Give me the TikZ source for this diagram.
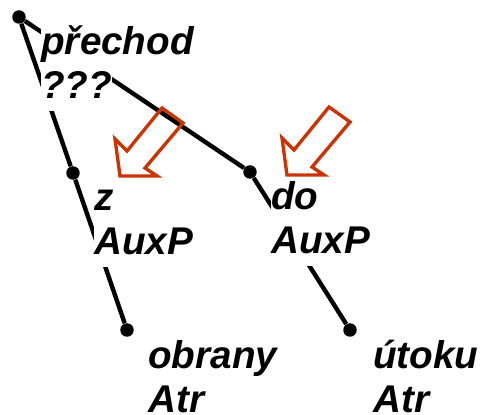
\documentclass[tikz,border=0pt]{standalone}
\usepackage{fontspec}
\setmainfont{Liberation Sans}
\usetikzlibrary{calc}
\definecolor{cHint}{HTML}{CC3300}
\setlength{\fboxsep}{0pt}
\tikzset{
  treedot/.style={
    circle, fill=black,
    inner sep=0pt,
    minimum size=0.27cm
  },
  treeedge/.style={
    line width=2.5pt,
    draw=black
  },
  treelabel/.style={
    anchor=north west,
    inner sep=0pt,
    align=left,
    font=\fontsize{22}{25}\selectfont\bfseries\itshape
  },
  hintline/.style={
    draw=cHint,
    line width=1.9pt
  }
}
\newcommand{\lbl}[2]{%
  \colorbox{white}{\strut #1}\\%
  \colorbox{white}{\strut #2}%
}
\newcommand{\hintarrow}[2]{%
  \draw[hintline, shift={(#1,#2)}]
    (0,0) -- (37,0) -- (25,-8) -- (63,-53) -- (42,-68) -- (7,-25) -- (-5,-37) -- cycle;%
}

\begin{document}
\begin{tikzpicture}[x=0.02cm, y=-0.02cm]
  \useasboundingbox (0,0) rectangle (481,415);

  \node[treedot] (root) at (19,17) {};
  \node[treedot] (z) at (73,173) {};
  \node[treedot] (do) at (250,172) {};
  \node[treedot] (obrany) at (127,330) {};
  \node[treedot] (utoku) at (350,330) {};

  \draw[treeedge] (root) -- (z);
  \draw[treeedge] (root) -- (do);
  \draw[treeedge] (z) -- (obrany);
  \draw[treeedge] (do) -- (utoku);

  \node[treelabel] (lroot) at ($(root)+(22,6)$) {\lbl{přechod}{???}};
  \node[treelabel] (lz) at ($(z)+(21,6)$) {\lbl{z}{AuxP}};
  \node[treelabel] (ldo) at ($(do)+(21,6)$) {\lbl{do}{AuxP}};
  \node[treelabel] (lobrany) at ($(obrany)+(21,7)$) {\lbl{obrany}{Atr}};
  \node[treelabel] (lutoku) at ($(utoku)+(23,7)$) {\lbl{útoku}{Atr}};

  \hintarrow{120}{176}
  \hintarrow{287}{175}
\end{tikzpicture}
\end{document}
